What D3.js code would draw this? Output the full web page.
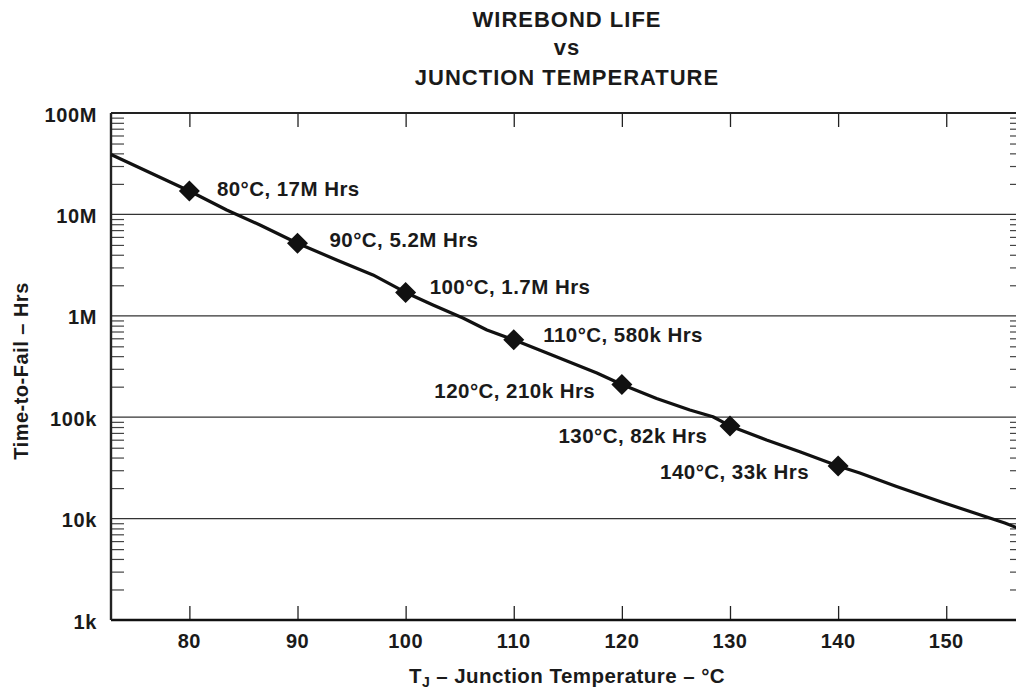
<!DOCTYPE html>
<html>
<head>
<meta charset="utf-8">
<script src="https://cdn.jsdelivr.net/npm/d3@7"></script>
<style>
  html, body { margin: 0; padding: 0; background: #fff; }
  svg { display: block; }
  text { font-family: "Liberation Sans", Arial, Helvetica, sans-serif; font-weight: bold; fill: #1a1a1a; }
</style>
</head>
<body>
<script>
// ---------- data ----------
const titleLines = ["WIREBOND LIFE", "vs", "JUNCTION TEMPERATURE"];
const markerTemps = [80, 90, 100, 110, 120, 130, 140];
const markerHours = [17e6, 5.2e6, 1.7e6, 580e3, 210e3, 82e3, 33e3];
const markerLabels = ["80°C, 17M Hrs", "90°C, 5.2M Hrs", "100°C, 1.7M Hrs", "110°C, 580k Hrs",
                      "120°C, 210k Hrs", "130°C, 82k Hrs", "140°C, 33k Hrs"];
const curveTemps = [72.75, 80, 83.45, 86.53, 90, 93.62, 96.98, 100, 102.53, 105.3, 107.52,
                    110, 113.07, 117.69, 120, 123.21, 126.29, 128.42, 130, 133.38, 136.46, 140,
                    142.01, 145.34, 149.69, 155.42, 157.1];
const curveHours = [39e6, 17e6, 11.05e6, 7.86e6, 5.2e6, 3.55e6, 2.53e6, 1.7e6, 1.28e6, 951e3, 724e3,
                    580e3, 430e3, 273e3, 210e3, 153e3, 118e3, 101e3, 82e3, 59.6e3, 45.7e3, 33e3,
                    28.2e3, 20.9e3, 14.4e3, 9.06e3, 7.7e3];
const xTicks = [80, 90, 100, 110, 120, 130, 140, 150];
const yTicks = [1e3, 1e4, 1e5, 1e6, 1e7, 1e8];
const yTickLabels = ["1k", "10k", "100k", "1M", "10M", "100M"];

// ---------- layout ----------
const W = 1016, H = 690;
const L = 111, R = 1023, T = 113, B = 620;

const svg = d3.select("body").append("svg").attr("width", W).attr("height", H);

const x = d3.scaleLinear().domain([72.75, 157.1]).range([L, R]);
const y = d3.scaleLog().domain([1e3, 1e8]).range([B, T]);

// minor ticks
const minor = [];
for (let e = 3; e < 8; e++) for (let m = 2; m <= 9; m++) minor.push(m * Math.pow(10, e));

// grid lines at decades
svg.append("g").selectAll("line").data(yTicks.slice(1, -1)).join("line")
  .attr("x1", L).attr("x2", R)
  .attr("y1", d => y(d)).attr("y2", d => y(d))
  .attr("stroke", "#333").attr("stroke-width", 1.2);

// left / right axes with inward minor ticks
const yAxisL = d3.axisRight(y).tickValues(minor).tickSize(13).tickFormat("");
const gl = svg.append("g").attr("transform", `translate(${L},0)`).call(yAxisL);
gl.select(".domain").remove();
gl.selectAll(".tick line").attr("stroke", "#444").attr("stroke-width", 1.2);

const yAxisR = d3.axisLeft(y).tickValues(minor).tickSize(13).tickFormat("");
const gr = svg.append("g").attr("transform", `translate(${R},0)`).call(yAxisR);
gr.select(".domain").remove();
gr.selectAll(".tick line").attr("stroke", "#444").attr("stroke-width", 1.2);

// x major ticks (bottom up, top down)
const xAxisB = d3.axisTop(x).tickValues(xTicks).tickSize(14).tickFormat("");
const gb = svg.append("g").attr("transform", `translate(0,${B})`).call(xAxisB);
gb.select(".domain").remove();
gb.selectAll(".tick line").attr("stroke", "#222").attr("stroke-width", 1.3);

const xAxisT = d3.axisBottom(x).tickValues(xTicks).tickSize(14).tickFormat("");
const gt = svg.append("g").attr("transform", `translate(0,${T})`).call(xAxisT);
gt.select(".domain").remove();
gt.selectAll(".tick line").attr("stroke", "#222").attr("stroke-width", 1.3);

// frame
svg.append("line").attr("x1", L).attr("x2", R).attr("y1", T).attr("y2", T).attr("stroke", "#222").attr("stroke-width", 2.2);
svg.append("line").attr("x1", L).attr("x2", R).attr("y1", B).attr("y2", B).attr("stroke", "#111").attr("stroke-width", 2.6);
svg.append("line").attr("x1", L).attr("x2", L).attr("y1", T).attr("y2", B).attr("stroke", "#222").attr("stroke-width", 2.4);
svg.append("line").attr("x1", R).attr("x2", R).attr("y1", T).attr("y2", B).attr("stroke", "#222").attr("stroke-width", 2.4);

// tick labels
svg.append("g").selectAll("text").data(xTicks).join("text")
  .attr("x", d => x(d)).attr("y", 648)
  .attr("text-anchor", "middle").attr("font-size", 20).attr("letter-spacing", 0.5)
  .text(d => d);

svg.append("g").selectAll("text").data(yTicks).join("text")
  .attr("x", 97).attr("y", d => y(d) + 8.5)
  .attr("text-anchor", "end").attr("font-size", 20).attr("letter-spacing", 0.6)
  .text((d, i) => yTickLabels[i]);

// curve
const pts = curveTemps.map((t, i) => [t, curveHours[i]]);
svg.append("path").datum(pts)
  .attr("d", d3.line().x(d => x(d[0])).y(d => y(d[1])))
  .attr("fill", "none").attr("stroke", "#111").attr("stroke-width", 3.2)
  .attr("stroke-linejoin", "round");

// markers
const mk = markerTemps.map((t, i) => ({ t, h: markerHours[i], label: markerLabels[i] }));
svg.append("g").selectAll("path").data(mk).join("path")
  .attr("transform", d => `translate(${x(d.t)},${y(d.h)})`)
  .attr("d", "M0,-10.5L10.5,0L0,10.5L-10.5,0Z")
  .attr("fill", "#111");

// marker labels (offset relative to marker)
const labDx = [27.5, 32, 24, 29.5, -187.5, -171.5, -178];
const labDy = [4.5, 3.5, 2, 2.5, 13.2, 17.5, 12.5];
svg.append("g").selectAll("text").data(mk).join("text")
  .attr("x", (d, i) => x(d.t) + labDx[i])
  .attr("y", (d, i) => y(d.h) + labDy[i])
  .attr("font-size", 20.5).attr("letter-spacing", 0.45)
  .text(d => d.label);

// title
svg.append("g").selectAll("text").data(titleLines).join("text")
  .attr("x", 567).attr("y", (d, i) => [27, 55, 85][i])
  .attr("text-anchor", "middle").attr("font-size", 22).attr("letter-spacing", 1)
  .text(d => d);

// x axis title
const xt = svg.append("text").attr("x", 567).attr("y", 683)
  .attr("text-anchor", "middle").attr("font-size", 20.5).attr("letter-spacing", 0.45);
xt.append("tspan").text("T");
xt.append("tspan").attr("font-size", 14).attr("dy", 4).text("J");
xt.append("tspan").attr("dy", -4).text(" – Junction Temperature – °C");

// y axis title
svg.append("text")
  .attr("transform", "translate(28,371) rotate(-90)")
  .attr("text-anchor", "middle").attr("font-size", 20).attr("letter-spacing", 0.5)
  .text("Time-to-Fail – Hrs");
</script>
</body>
</html>
